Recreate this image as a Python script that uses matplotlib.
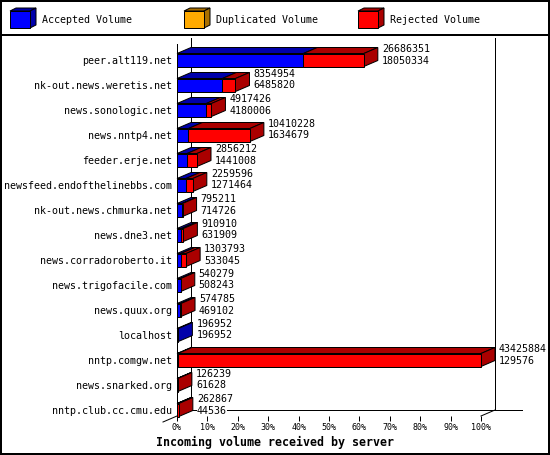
import numpy as np
import matplotlib.pyplot as plt
from matplotlib.patches import Polygon, Rectangle

servers = ['peer.alt119.net', 'nk-out.news.weretis.net', 'news.sonologic.net',
           'news.nntp4.net', 'feeder.erje.net', 'newsfeed.endofthelinebbs.com',
           'nk-out.news.chmurka.net', 'news.dne3.net', 'news.corradoroberto.it',
           'news.trigofacile.com', 'news.quux.org', 'localhost', 'nntp.comgw.net',
           'news.snarked.org', 'nntp.club.cc.cmu.edu']
total = np.array([26686351, 8354954, 4917426, 10410228, 2856212, 2259596, 795211,
                  910910, 1303793, 540279, 574785, 196952, 43425884, 126239, 262867])
accepted = np.array([18050334, 6485820, 4180006, 1634679, 1441008, 1271464, 714726,
                     631909, 533045, 508243, 469102, 196952, 129576, 61628, 44536])
duplicated = np.zeros(len(servers))
rejected = total - accepted - duplicated

legend_names = ['Accepted Volume', 'Duplicated Volume', 'Rejected Volume']
front_colors = ['#0000ff', '#ffaa00', '#ff0000']
dark_colors = ['#0000aa', '#aa7000', '#aa0000']

W, H = 550, 455
MONO = 'DejaVu Sans Mono'
PX = 0.72  # one pixel in points

fig = plt.figure(figsize=(W / 100, H / 100), dpi=100)

# background / frame in pixel coordinates
bg = fig.add_axes([0, 0, 1, 1], zorder=0)
bg.set_xlim(0, W)
bg.set_ylim(H, 0)
bg.axis('off')
bg.add_patch(Rectangle((1, 1), W - 2, H - 2, fill=False, lw=2 * PX, ec='black'))
bg.plot([0, W], [35, 35], color='black', lw=2 * PX)

# legend cubes
for k, (name, fc, dc) in enumerate(zip(legend_names, front_colors, dark_colors)):
    x0 = 10 + k * 174
    y0, y1 = 11, 28
    bg.add_patch(Polygon([(x0, y0), (x0 + 20, y0), (x0 + 26, y0 - 3), (x0 + 6, y0 - 3)],
                         fc=dc, ec='black', lw=PX))
    bg.add_patch(Polygon([(x0 + 20, y0), (x0 + 20, y1), (x0 + 26, y1 - 3), (x0 + 26, y0 - 3)],
                         fc=dc, ec='black', lw=PX))
    bg.add_patch(Rectangle((x0, y0), 20, y1 - y0, fc=fc, ec='black', lw=PX))
    bg.text(x0 + 32, 20, name, family=MONO, fontsize=7.2, va='center', ha='left')

# main chart
ax_l, ax_r, ax_t, ax_b = 177, 481, 44, 416
ax = fig.add_axes([ax_l / W, 1 - ax_b / H, (ax_r - ax_l) / W, (ax_b - ax_t) / H], zorder=1)
ax.patch.set_visible(False)
n = len(servers)
ylo, yhi = 14.24, -0.64
ax.set_xlim(0, 100)
ax.set_ylim(ylo, yhi)

xpp = 100 / (ax_r - ax_l)           # data units per pixel in x
ypp = (ylo - yhi) / (ax_b - ax_t)   # data units per pixel in y
DX, DY = 14 * xpp, 6 * ypp
bh = 13 * ypp

# back wall and floor
line_kw = dict(color='black', lw=PX, clip_on=False, zorder=1)
ax.plot([DX, DX], [ylo - DY, yhi - DY], **line_kw)
ax.plot([100 + DX, 100 + DX], [ylo - DY, yhi - DY], **line_kw)
ax.plot([DX, 100 + DX + 27 * xpp], [ylo - DY, ylo - DY], **line_kw)
ax.plot([100, 100 + DX], [ylo, ylo - DY], **line_kw)
ax.plot([-DX, 0], [ylo + DY, ylo], **line_kw)

scale = 100 / total.max()
for i in range(n):
    segs = [accepted[i], duplicated[i], rejected[i]]
    x = 0.0
    last = None
    top, bot = i - bh / 2, i + bh / 2
    for v, fc, dc in zip(segs, front_colors, dark_colors):
        if v <= 0:
            continue
        w = v * scale
        ax.add_patch(Polygon([(x, top), (x + w, top), (x + w + DX, top - DY), (x + DX, top - DY)],
                             fc=dc, ec='black', lw=PX, zorder=3, clip_on=False))
        ax.add_patch(Rectangle((x, top), w, bh, fc=fc, ec='black', lw=PX, zorder=4, clip_on=False))
        x += w
        last = dc
    ax.add_patch(Polygon([(x, top), (x, bot), (x + DX, bot - DY), (x + DX, top - DY)],
                         fc=last, ec='black', lw=PX, zorder=3, clip_on=False))
    tx = x + 18 * xpp
    ax.text(tx, i - 11 * ypp, str(total[i]), family=MONO, fontsize=7.2, va='center', ha='left',
            zorder=5, clip_on=False, bbox=dict(fc='white', ec='none', pad=0))
    ax.text(tx, i + 0.5 * ypp, str(accepted[i]), family=MONO, fontsize=7.2, va='center', ha='left',
            zorder=5, clip_on=False, bbox=dict(fc='white', ec='none', pad=0))

ax.set_yticks(range(n))
ax.set_yticklabels(servers, family=MONO, fontsize=7.2)
ax.tick_params(axis='y', length=0, pad=5 * PX)
ax.set_xticks(np.arange(0, 101, 10))
ax.set_xticklabels([f'{v}%' for v in range(0, 101, 10)], family=MONO, fontsize=6)
ax.tick_params(axis='x', length=5 * PX, width=PX, pad=2 * PX)
for s in ['top', 'right', 'bottom']:
    ax.spines[s].set_visible(False)
ax.spines['left'].set_linewidth(PX)

fig.text(0.5, 1 - 442 / H, 'Incoming volume received by server', family=MONO,
         fontsize=8.4, fontweight='bold', ha='center', va='center')

fig.savefig('out.png', dpi=100)
